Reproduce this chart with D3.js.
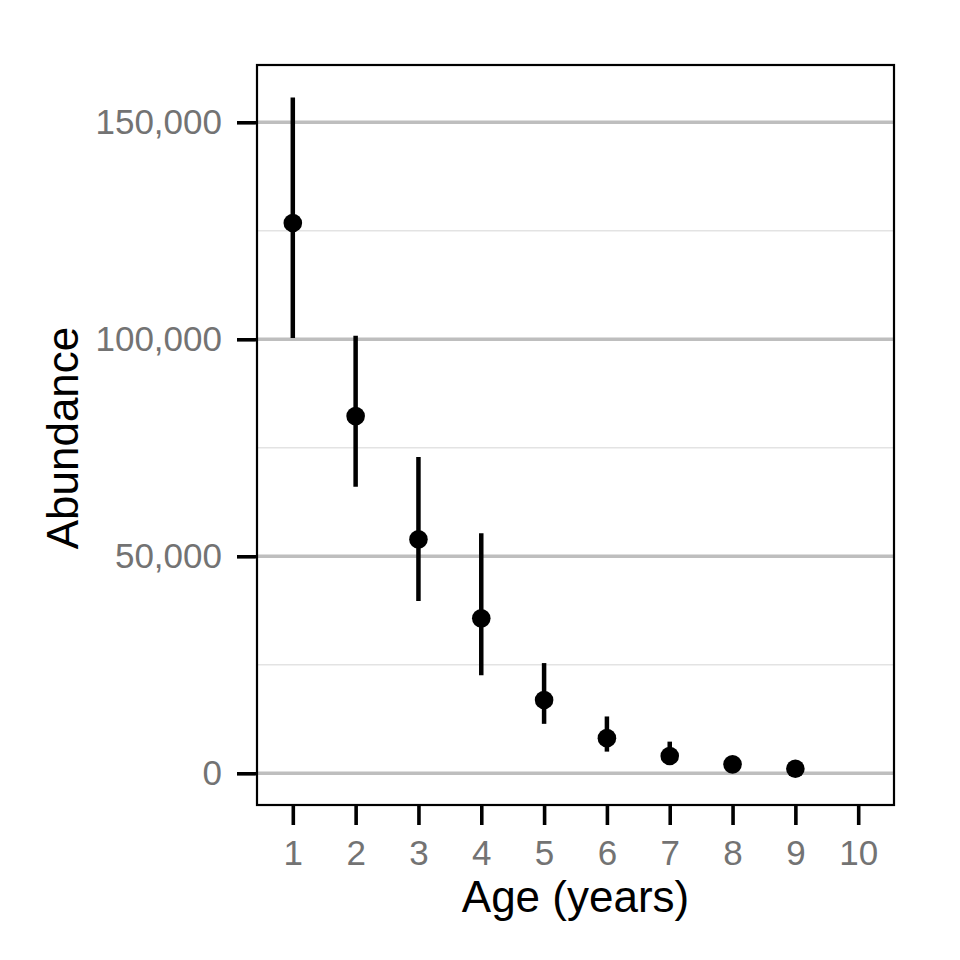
<!DOCTYPE html>
<html>
<head>
<meta charset="utf-8">
<script src="https://cdn.jsdelivr.net/npm/d3@7"></script>
<style>
  body { margin: 0; background: #fff; }
  text { font-family: "Liberation Sans", Arial, Helvetica, sans-serif; }
</style>
</head>
<body>
<div id="chart"></div>
<script>
// data
var ages = [1, 2, 3, 4, 5, 6, 7, 8, 9];
var abundance = [126800, 82300, 53900, 35700, 16900, 8100, 4000, 2070, 1060];
var upper = [155700, 100800, 72900, 55300, 25400, 13100, 7300, 3200, 1600];
var lower = [100300, 66000, 39700, 22600, 11400, 5000, 2800, 1300, 600];
var xTicks = [1, 2, 3, 4, 5, 6, 7, 8, 9, 10];
var yTicks = [0, 50000, 100000, 150000];
var yMinor = [25000, 75000, 125000];

var W = 960, H = 960;
var margin = {top: 65, right: 66, bottom: 155, left: 257};
var width = W - margin.left - margin.right,
    height = H - margin.top - margin.bottom;

var data = ages.map(function(a, i) {
  return {age: a, value: abundance[i], hi: upper[i], lo: lower[i]};
});

var x = d3.scaleLinear().domain([0.43, 10.57]).range([0, width]);
var y = d3.scaleLinear().domain([-7300, 163200]).range([height, 0]);

var svg = d3.select("#chart").append("svg")
    .attr("width", W)
    .attr("height", H);

var g = svg.append("g")
    .attr("transform", "translate(" + margin.left + "," + margin.top + ")");

// minor grid
g.selectAll(".minor")
    .data(yMinor)
    .enter().append("line")
    .attr("x1", 0).attr("x2", width)
    .attr("y1", function(d) { return y(d); })
    .attr("y2", function(d) { return y(d); })
    .attr("stroke", "#e3e3e3")
    .attr("stroke-width", 1.6);

// major grid
g.selectAll(".major")
    .data(yTicks)
    .enter().append("line")
    .attr("x1", 0).attr("x2", width)
    .attr("y1", function(d) { return y(d); })
    .attr("y2", function(d) { return y(d); })
    .attr("stroke", "#bebebe")
    .attr("stroke-width", 3.6);

// error bars
g.selectAll(".err")
    .data(data)
    .enter().append("line")
    .attr("x1", function(d) { return x(d.age); })
    .attr("x2", function(d) { return x(d.age); })
    .attr("y1", function(d) { return y(d.hi); })
    .attr("y2", function(d) { return y(d.lo); })
    .attr("stroke", "#000")
    .attr("stroke-width", 4.5);

// points
g.selectAll(".pt")
    .data(data)
    .enter().append("circle")
    .attr("cx", function(d) { return x(d.age); })
    .attr("cy", function(d) { return y(d.value); })
    .attr("r", 9.3)
    .attr("fill", "#000");

// panel border
g.append("rect")
    .attr("width", width).attr("height", height)
    .attr("fill", "none")
    .attr("stroke", "#000")
    .attr("stroke-width", 2.2);

// axes
var xAxis = g.append("g")
    .attr("transform", "translate(0," + (height + 1) + ")")
    .call(d3.axisBottom(x).tickValues(xTicks).tickSize(19).tickPadding(15)
      .tickFormat(d3.format("d")));
var yAxis = g.append("g")
    .attr("transform", "translate(-1,0)")
    .call(d3.axisLeft(y).tickValues(yTicks).tickSize(19).tickPadding(15)
      .tickFormat(d3.format(",")));

[xAxis, yAxis].forEach(function(ax) {
  ax.select(".domain").remove();
  ax.selectAll(".tick line").attr("stroke", "#000").attr("stroke-width", 3.6);
  ax.selectAll(".tick text")
    .attr("fill", "#737373")
    .style("font-size", "35px");
});

// axis titles
svg.append("text")
    .attr("x", margin.left + width / 2)
    .attr("y", 912)
    .attr("text-anchor", "middle")
    .style("font-size", "44px")
    .attr("fill", "#000")
    .text("Age (years)");

svg.append("text")
    .attr("transform", "translate(78," + (margin.top + height / 2 + 3) + ") rotate(-90)")
    .attr("text-anchor", "middle")
    .style("font-size", "44px")
    .attr("fill", "#000")
    .text("Abundance");
</script>
</body>
</html>
